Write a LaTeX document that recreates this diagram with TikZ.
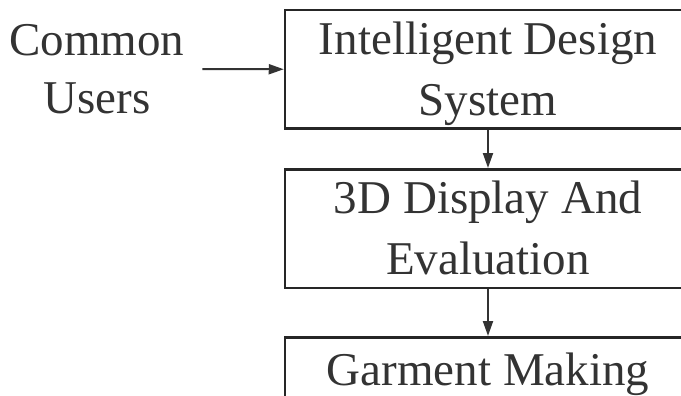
\documentclass[tikz,border=0pt]{standalone}
\usepackage{fontspec}
\setmainfont{Liberation Serif}
\usetikzlibrary{positioning,arrows.meta}
\tikzset{
  stepbox/.style={draw=black!85, line width=2.5pt, minimum width=406pt, inner xsep=0pt, inner ysep=0pt,
    align=center, font=\fontsize{47}{61.5}\selectfont, text=black!80, anchor=north},
  users/.style={align=center, font=\fontsize{47}{58}\selectfont, text=black!80, inner xsep=18pt, outer sep=0pt},
  flow/.style={draw=black!80, line width=2pt, -{Triangle[length=15pt,width=10pt]}}
}
\newcommand{\tops}[1][44pt]{\rule{0pt}{#1}}
\newcommand{\bots}[1][13pt]{\rule[-#1]{0pt}{#1}}
\begin{document}
\begin{tikzpicture}[x=1pt,y=1pt]
\clip (0,0) rectangle (681,-396);
\node[stepbox] (ids) at (488,-9) {\tops Intelligent Design\\System\bots};
\node[stepbox, below=38pt of ids] (disp) {\tops 3D Display And\\Evaluation\bots};
\node[stepbox, below=47pt of disp] (make) {\tops[48pt]Garment Making\bots[40pt]};
\node[users] (users) at (97,-69) {Common\\Users};
\draw[flow] (users) -- (ids);
\draw[flow] (ids) -- (disp);
\draw[flow] (disp) -- (make);
\end{tikzpicture}
\end{document}
